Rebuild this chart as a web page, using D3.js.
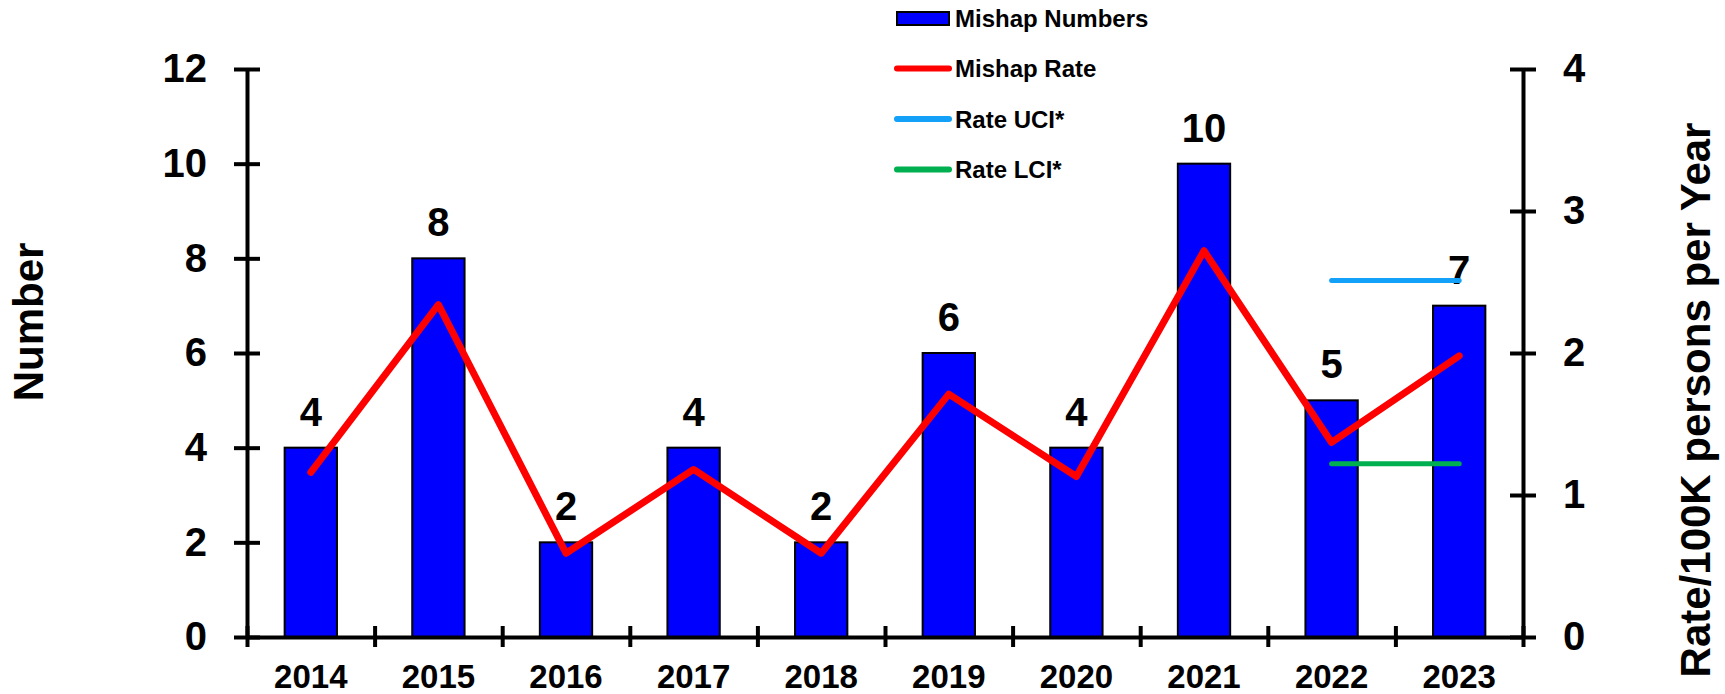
<!DOCTYPE html>
<html>
<head>
<meta charset="utf-8">
<script src="https://cdn.jsdelivr.net/npm/d3@7"></script>
<style>
  body { margin: 0; background: #fff; }
  svg { display: block; font-family: "Liberation Sans", Arial, sans-serif; font-weight: bold; }
</style>
</head>
<body>
<script>
// chart values
const years = ['2014', '2015', '2016', '2017', '2018', '2019', '2020', '2021', '2022', '2023'];
const mishapNumbers = [4, 8, 2, 4, 2, 6, 4, 10, 5, 7];
const mishapRate = [1.16, 2.34, 0.59, 1.18, 0.59, 1.71, 1.13, 2.72, 1.37, 1.98];
const rateUCI = [null, null, null, null, null, null, null, null, 2.51, 2.51];
const rateLCI = [null, null, null, null, null, null, null, null, 1.22, 1.22];
const leftTicks = [0, 2, 4, 6, 8, 10, 12];
const rightTicks = [0, 1, 2, 3, 4];
const legendItems = [
  { label: 'Mishap Numbers', type: 'bar', color: '#0000ff' },
  { label: 'Mishap Rate', type: 'line', color: '#ff0000' },
  { label: 'Rate UCI*', type: 'line', color: '#12a0f8' },
  { label: 'Rate LCI*', type: 'line', color: '#00b050' },
];

const w = 1725;
const h = 694;
const plot = { left: 247, right: 1523, top: 69, bottom: 637 };

const svg = d3.select('body')
  .append('svg')
  .attr('width', w)
  .attr('height', h);

// scales
const x = d3.scaleBand()
  .domain(years)
  .range([plot.left, plot.right])
  .paddingInner(0.59)
  .paddingOuter(0.295);
const xEdge = d3.scaleLinear().domain([0, years.length]).range([plot.left, plot.right]);
const yLeft = d3.scaleLinear().domain([0, 12]).range([plot.bottom, plot.top]);
const yRight = d3.scaleLinear().domain([0, 4]).range([plot.bottom, plot.top]);

//bars
svg.selectAll('rect.bar')
  .data(mishapNumbers)
  .enter()
  .append('rect')
  .attr('class', 'bar')
  .attr('x', (d, i) => x(years[i]))
  .attr('y', (d) => yLeft(d))
  .attr('width', x.bandwidth())
  .attr('height', (d) => yLeft(0) - yLeft(d))
  .style('fill', '#0000ff')
  .style('stroke', '#000')
  .style('stroke-width', 2);

//bar value labels
svg.selectAll('text.barLabel')
  .data(mishapNumbers)
  .enter()
  .append('text')
  .attr('class', 'barLabel')
  .attr('x', (d, i) => x(years[i]) + x.bandwidth() / 2)
  .attr('y', (d) => yLeft(d) - 22)
  .attr('text-anchor', 'middle')
  .style('font-size', '40px')
  .text((d) => d);

//axes
const styleAxis = (g) => {
  g.select('.domain').style('stroke', '#000').style('stroke-width', 4);
  g.selectAll('.tick line').style('stroke', '#000').style('stroke-width', 4);
  g.selectAll('.tick text')
    .style('font-family', '"Liberation Sans", Arial, sans-serif')
    .style('font-weight', 'bold')
    .style('fill', '#000');
};

const leftAxis = svg.append('g')
  .attr('transform', `translate(${plot.left},0)`)
  .call(d3.axisLeft(yLeft).tickValues(leftTicks).tickFormat(d3.format('d'))
    .tickSize(13).tickSizeOuter(0).tickPadding(27));
leftAxis.selectAll('.tick line').attr('x2', 13).attr('x1', -13);
leftAxis.selectAll('.tick text').style('font-size', '40px');
styleAxis(leftAxis);

const rightAxis = svg.append('g')
  .attr('transform', `translate(${plot.right},0)`)
  .call(d3.axisRight(yRight).tickValues(rightTicks).tickFormat(d3.format('d'))
    .tickSize(13).tickSizeOuter(0).tickPadding(27));
rightAxis.selectAll('.tick line').attr('x1', -13).attr('x2', 13);
rightAxis.selectAll('.tick text').style('font-size', '40px');
styleAxis(rightAxis);

// x axis: boundary ticks and centred year labels
const xAxis = svg.append('g')
  .attr('transform', `translate(0,${plot.bottom})`)
  .call(d3.axisBottom(xEdge).ticks(years.length).tickSize(10).tickSizeOuter(0).tickFormat(''));
xAxis.selectAll('.tick line').attr('y1', -11).attr('y2', 10);
styleAxis(xAxis);

svg.append('g')
  .selectAll('text')
  .data(years)
  .enter()
  .append('text')
  .attr('x', (d) => x(d) + x.bandwidth() / 2)
  .attr('y', 688)
  .attr('text-anchor', 'middle')
  .style('font-size', '33px')
  .text((d) => d);

//rate lines
const centre = (i) => x(years[i]) + x.bandwidth() / 2;
const rateLine = d3.line()
  .defined((d) => d !== null)
  .x((d, i) => centre(i))
  .y((d) => yRight(d));

svg.append('path')
  .datum(mishapRate)
  .attr('d', rateLine)
  .style('fill', 'none')
  .style('stroke', '#ff0000')
  .style('stroke-width', 7)
  .style('stroke-linejoin', 'round')
  .style('stroke-linecap', 'round');

svg.append('path')
  .datum(rateUCI)
  .attr('d', rateLine)
  .style('fill', 'none')
  .style('stroke', '#12a0f8')
  .style('stroke-width', 5)
  .style('stroke-linecap', 'round');

svg.append('path')
  .datum(rateLCI)
  .attr('d', rateLine)
  .style('fill', 'none')
  .style('stroke', '#00b050')
  .style('stroke-width', 5)
  .style('stroke-linecap', 'round');

//axis titles
svg.append('text')
  .attr('transform', 'translate(43,322) rotate(-90)')
  .attr('text-anchor', 'middle')
  .style('font-size', '42px')
  .text('Number');

svg.append('text')
  .attr('transform', 'translate(1710,400) rotate(-90)')
  .attr('text-anchor', 'middle')
  .style('font-size', '42px')
  .text('Rate/100K persons per Year');

//legend
const legend = svg.append('g').attr('class', 'legend');
const rows = legend.selectAll('g')
  .data(legendItems)
  .enter()
  .append('g')
  .attr('transform', (d, i) => `translate(0,${18 + i * 50.5})`);

rows.filter((d) => d.type === 'bar')
  .append('rect')
  .attr('x', 897)
  .attr('y', -6)
  .attr('width', 52)
  .attr('height', 13)
  .style('fill', (d) => d.color)
  .style('stroke', '#000')
  .style('stroke-width', 2);

rows.filter((d) => d.type === 'line')
  .append('line')
  .attr('x1', 897)
  .attr('x2', 949)
  .style('stroke', (d) => d.color)
  .style('stroke-width', 6)
  .style('stroke-linecap', 'round');

rows.append('text')
  .attr('x', 955)
  .attr('y', 8.5)
  .style('font-size', '24px')
  .text((d) => d.label);
</script>
</body>
</html>
